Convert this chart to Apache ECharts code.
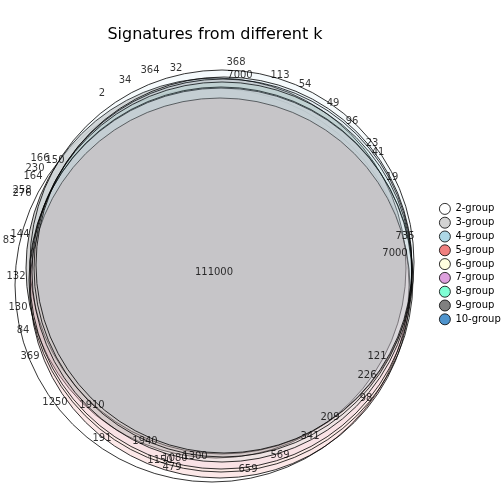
<!DOCTYPE html>
<html>
<head>
<meta charset="UTF-8">
<script src="https://cdn.jsdelivr.net/npm/echarts@6/dist/echarts.min.js"></script>
<style>html,body{margin:0;padding:0;background:#fff}</style>
</head>
<body>
<div id="main" style="width:504px;height:504px"></div>
<script>
// groups and their circle (centre x, centre y, radius) in plot units
var groups = ['2-group','3-group','4-group','5-group','6-group','7-group','8-group','9-group','10-group'];
var colors = ['#ffffff','#d3d3d3','#add8e6','#f08080','#ffffe0','#dda0dd','#7fffd4','#808080','#4f94cd'];
var alphas = [1, 0.9, 0.12, 0.18, 0.12, 0.1, 0.08, 0.06, 0.06];
var circleX = [212, 216, 222, 220, 221, 221, 222, 223, 224];
var circleY = [285, 268, 262, 288, 280, 278, 272, 268, 265];
var circleR = [197, 190, 192, 190, 192, 191, 190, 189, 188];

// region labels [x, y, text]
var labels = [
  [214,272,'111000'],[240,75,'7000'],[236,62,'368'],[176,68,'32'],[150,70,'364'],[125,80,'34'],
  [102,93,'2'],[280,75,'113'],[305,84,'54'],[333,103,'49'],[352,121,'96'],[372,143,'23'],
  [378,152,'41'],[392,177,'19'],[405,236,'735'],[395,253,'7000'],[55,160,'150'],[40,158,'166'],
  [35,168,'230'],[33,176,'164'],[22,190,'258'],[22,193,'276'],[20,234,'144'],[9,240,'83'],
  [16,276,'132'],[18,307,'130'],[23,330,'84'],[30,356,'369'],[55,402,'1250'],[92,405,'1910'],
  [102,438,'191'],[145,441,'1940'],[160,460,'1150'],[175,458,'1080'],[195,456,'1300'],
  [172,467,'479'],[248,469,'659'],[280,455,'569'],[310,436,'341'],[330,417,'209'],
  [366,398,'98'],[367,375,'226'],[377,356,'121']
];

var chart = echarts.init(document.getElementById('main'));
var circles = groups.map(function (g, i) { return [circleX[i], circleY[i], circleR[i], i]; });
chart.setOption({
  animation: false,
  title: { text: 'Signatures from different k', left: 210, top: 22, textAlign: 'center',
    textStyle: { fontFamily: 'DejaVu Sans', fontSize: 16, fontWeight: 'normal', color: '#000' } },
  grid: { left: 0, right: 0, top: 0, bottom: 0 },
  xAxis: { type: 'value', min: 0, max: 504, show: false },
  yAxis: { type: 'value', min: 0, max: 504, inverse: true, show: false },
  legend: {
    orient: 'vertical', left: 434, top: 198, itemGap: 2, itemWidth: 11, itemHeight: 11,
    icon: 'circle', data: groups,
    itemStyle: { borderColor: '#000', borderWidth: 0.8, opacity: 1 },
    textStyle: { fontFamily: 'DejaVu Sans', fontSize: 10, color: '#000' }
  },
  series: groups.map(function (g, i) {
    return {
      name: g, type: 'custom', color: colors[i],
      data: [circles[i]],
      itemStyle: { color: colors[i], borderColor: '#000' },
      renderItem: function (params, api) {
        var c = api.coord([api.value(0), api.value(1)]);
        var r = api.size([api.value(2), 0])[0];
        return { type: 'circle', shape: { cx: c[0], cy: c[1], r: r },
          style: { fill: colors[i], fillOpacity: alphas[i], stroke: '#000', lineWidth: 0.8 } };
      }
    };
  }).concat([{
    type: 'scatter', symbolSize: 0, silent: true, z: 10,
    data: labels,
    label: { show: true, position: 'inside', formatter: function (p) { return p.value[2]; },
      fontFamily: 'DejaVu Sans', fontSize: 10, color: '#000' }
  }])
});
</script>
</body>
</html>
